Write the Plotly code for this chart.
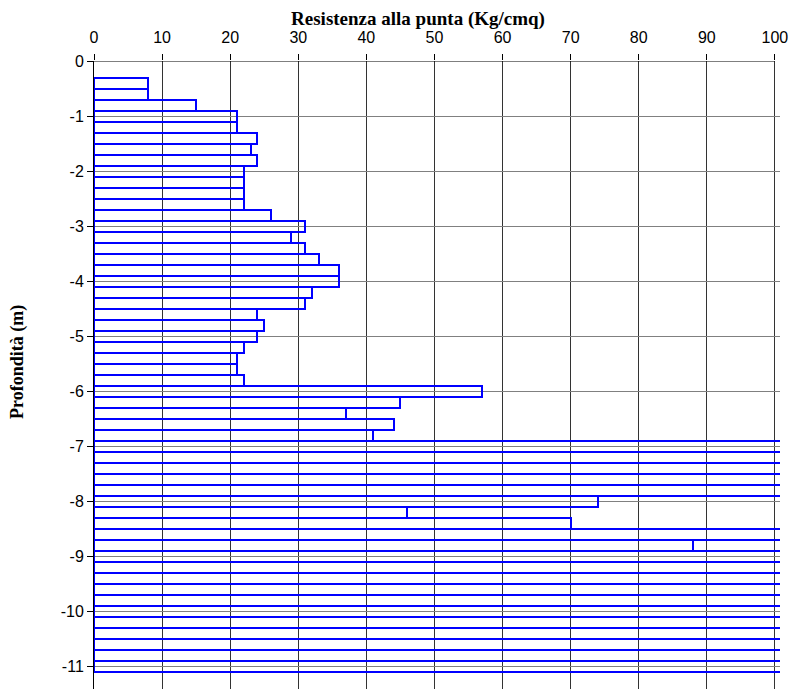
import plotly.graph_objects as go

# Depth (m) of each reading, bar centred on the depth, 0.2 m thick
depths = [0.4, 0.6, 0.8, 1.0, 1.2, 1.4, 1.6, 1.8, 2.0, 2.2,
          2.4, 2.6, 2.8, 3.0, 3.2, 3.4, 3.6, 3.8, 4.0, 4.2,
          4.4, 4.6, 4.8, 5.0, 5.2, 5.4, 5.6, 5.8, 6.0, 6.2,
          6.4, 6.6, 6.8, 7.0, 7.2, 7.4, 7.6, 7.8, 8.0, 8.2,
          8.4, 8.6, 8.8, 9.0, 9.2, 9.4, 9.6, 9.8, 10.0, 10.2,
          10.4, 10.6, 10.8, 11.0]
# Tip resistance (Kg/cmq); readings above 100 run off the chart
resistance = [8, 8, 15, 21, 21, 24, 23, 24, 22, 22,
              22, 22, 26, 31, 29, 31, 33, 36, 36, 32,
              31, 24, 25, 24, 22, 21, 21, 22, 57, 45,
              37, 44, 41, 101, 101, 101, 101, 101, 74, 46,
              70, 101, 88, 101, 101, 101, 101, 101, 101, 101,
              101, 101, 101, 101]

x_ticks = list(range(0, 101, 10))
y_ticks = list(range(0, -12, -1))

fig = go.Figure()
fig.add_trace(go.Bar(
    x=resistance,
    y=[-d for d in depths],
    orientation="h",
    width=0.2,
    base=0,
    marker=dict(color="rgba(0,0,0,0)", line=dict(color="#0000FF", width=2)),
    showlegend=False,
    hoverinfo="x+y",
))

fig.update_layout(
    width=791, height=689,
    margin=dict(l=94, r=11, t=61, b=0),
    paper_bgcolor="white", plot_bgcolor="white",
    bargap=0,
    title=dict(
        text="<b>Resistenza alla punta (Kg/cmq)</b>",
        font=dict(family="Liberation Serif", size=19, color="black"),
        x=418 / 791, xanchor="center", xref="container",
        y=1 - 18 / 689, yanchor="middle", yref="container",
    ),
    xaxis=dict(
        side="top", range=[0, 100.75], automargin=False,
        tickmode="array", tickvals=x_ticks, ticktext=[str(v) for v in x_ticks],
        ticks="outside", ticklen=6, tickcolor="black",
        ticklabelstandoff=5,
        tickfont=dict(family="Liberation Sans", size=16, color="black"),
        showgrid=True, gridcolor="#333333", gridwidth=1,
        showline=False, zeroline=False,
    ),
    yaxis=dict(
        range=[-11.418, 0], automargin=False,
        tickmode="array", tickvals=y_ticks, ticktext=[str(v) for v in y_ticks],
        ticks="outside", ticklen=6, tickcolor="black",
        tickfont=dict(family="Liberation Sans", size=16, color="black"),
        showgrid=True, gridcolor="#808080", gridwidth=1,
        showline=True, linecolor="black", linewidth=1,
        zeroline=False,
    ),
    annotations=[dict(
        text="<b>Profondità (m)</b>", textangle=-90,
        font=dict(family="Liberation Serif", size=18, color="black"),
        xref="paper", x=(18 - 94) / 686, xanchor="center",
        yref="paper", y=1 - (362 - 61) / 628, yanchor="middle",
        showarrow=False,
    )],
    shapes=[dict(type="line", xref="x", yref="y", x0=0, x1=100, y0=0, y1=0,
                 line=dict(color="black", width=1), layer="above")],
)

fig.write_html(
    "out.html",
    config={"displayModeBar": False},
    post_script="document.body.style.margin='0';document.body.style.overflow='hidden';",
)
